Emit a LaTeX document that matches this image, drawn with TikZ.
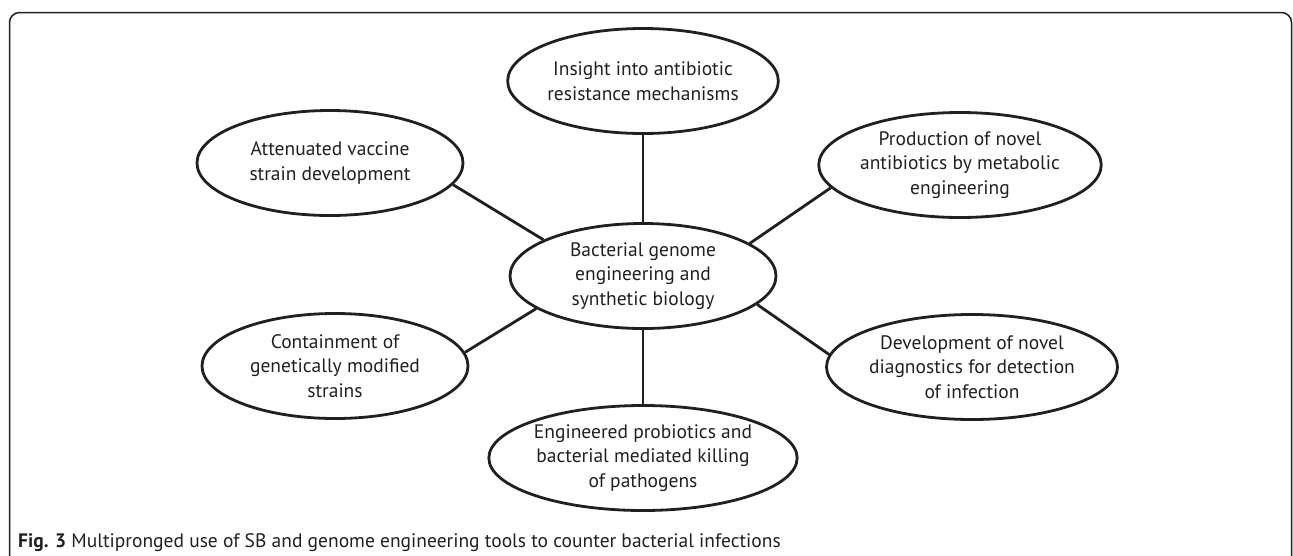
\documentclass[tikz,border=0pt]{standalone}
\usepackage{fontspec}
\setmainfont{PT Sans}
\usetikzlibrary{shapes.geometric}
\definecolor{ink}{HTML}{231F20}
\begin{document}
\begin{tikzpicture}[x=1pt,y=-1pt,
  bub/.style={ellipse,draw=ink,line width=2.8pt,minimum width=266pt,minimum height=105pt,
    inner sep=0pt,align=center,text=ink,font=\fontsize{19.5}{24.5}\selectfont},
  link/.style={draw=ink,line width=2.8pt},
  frame/.style={draw=ink,line width=1.5pt,rounded corners=10pt}]
\clip (0,0) rectangle (1293,555);
\draw[frame] (9.5,570) -- (9.5,12.5) -- (1291.5,12.5) -- (1291.5,570);
\node[bub] (c)   at (643,276) {Bacterial genome\\engineering and\\synthetic biology};
\node[bub] (top) at (643,81)  {Insight into antibiotic\\resistance mechanisms};
\node[bub] (lt)  at (330,163) {Attenuated vaccine\\strain development};
\node[bub] (rt)  at (960,165) {Production of novel\\antibiotics by metabolic\\engineering};
\node[bub] (lb)  at (335,366) {Containment of\\genetically modified\\strains};
\node[bub] (rb)  at (972,367) {Development of novel\\diagnostics for detection\\of infection};
\node[bub] (bot) at (643,458) {Engineered probiotics and\\bacterial mediated killing\\of pathogens};
\draw[link] (c.north) -- (top.south);
\draw[link] (c.south) -- (bot.north);
\draw[link] (c.160) -- (lt.-10);
\draw[link] (c.17) -- (rt.190);
\draw[link] (c.197) -- (lb.6);
\draw[link] (c.-14) -- (rb.175);
\node[anchor=base west,inner sep=0pt,text=ink,font=\fontsize{19.5}{22}\selectfont] (cap) at (18,547)
  {\textbf{Fig. 3} Multipronged use of SB and genome engineering tools to counter bacterial infections};
\end{tikzpicture}
\end{document}
